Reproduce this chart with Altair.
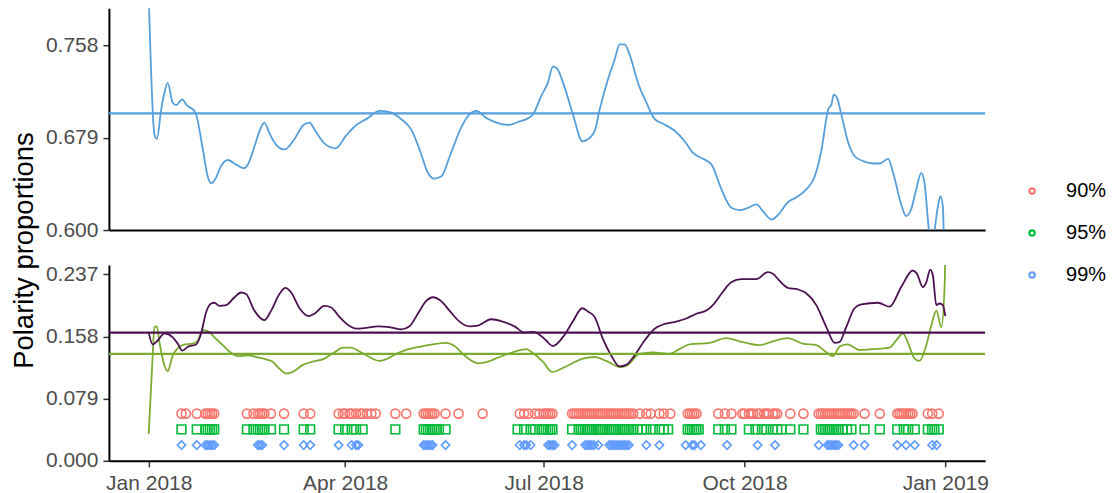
import altair as alt
import pandas as pd

START = "2018-01-01"

# ---- top panel: one smoothed proportion (days since START, value) ----
top_days = [0, 2.6, 3.7, 5.7, 6.9, 8.7, 11.0, 12.6, 15.3, 17.4,
            20.9, 21.7, 24.8, 27.0, 28.6, 30.6, 33.2, 36.2, 40.1, 43.4,
            45.4, 48.5, 50.8, 53.0, 55.3, 58.4, 62.2, 66.8, 70.9, 73.7,
            76.0, 80.6, 85.6, 90.5, 95.1, 99.7, 105.8, 110.4, 115.7, 120.3,
            124.1, 127.9, 130.7, 134.1, 137.9, 143.2, 147.0, 150.1, 154.7, 159.3,
            164.6, 170.0, 173.0, 176.1, 179.9, 182.9, 185.2, 186.8, 190.6, 194.4,
            198.7, 200.5, 204.4, 206.6, 210.4, 213.5, 215.8, 218.1, 220.4, 224.2,
            228.1, 231.9, 235.7, 241.0, 245.6, 249.4, 254.0, 257.9, 262.4, 267.0,
            270.8, 274.6, 278.5, 281.5, 285.4, 288.4, 293.0, 296.8, 301.4, 305.2,
            308.3, 311.3, 312.9, 313.9, 315.2, 317.5, 320.5, 323.6, 327.4, 332.0,
            335.0, 338.8, 341.1, 344.8, 347.1, 349.4, 351.7, 354.0, 355.5, 357.5,
            358.7, 360.1, 361.6, 362.8, 363.9, 364.4]
top_vals = [0.800, 0.682, 0.678, 0.703, 0.715, 0.726, 0.709, 0.707, 0.712, 0.707,
            0.702, 0.699, 0.669, 0.646, 0.640, 0.644, 0.655, 0.660, 0.656, 0.653,
            0.656, 0.672, 0.685, 0.692, 0.683, 0.673, 0.669, 0.678, 0.690, 0.692,
            0.686, 0.674, 0.670, 0.681, 0.690, 0.695, 0.702, 0.701, 0.695, 0.686,
            0.669, 0.649, 0.644, 0.646, 0.663, 0.688, 0.699, 0.702, 0.696, 0.692,
            0.690, 0.693, 0.695, 0.699, 0.715, 0.726, 0.740, 0.739, 0.722, 0.699,
            0.676, 0.677, 0.685, 0.703, 0.729, 0.746, 0.759, 0.759, 0.750, 0.726,
            0.709, 0.695, 0.691, 0.685, 0.676, 0.666, 0.661, 0.656, 0.635, 0.619,
            0.617, 0.619, 0.622, 0.616, 0.609, 0.613, 0.624, 0.628, 0.635, 0.646,
            0.669, 0.703, 0.708, 0.716, 0.714, 0.698, 0.675, 0.663, 0.659, 0.657,
            0.657, 0.661, 0.649, 0.622, 0.612, 0.618, 0.635, 0.649, 0.640, 0.600,
            0.585, 0.600, 0.620, 0.629, 0.620, 0.585]
top_ref = 0.700

# ---- bottom panel: two proportions ----
pos_days = [0.0, 1.8, 4.1, 7.2, 11.0, 13.3, 15.3, 17.9, 21.7, 24.0,
            26.3, 28.6, 30.1, 32.4, 35.5, 39.3, 42.3, 44.6, 48.4, 53.0,
            56.1, 59.9, 62.6, 65.3, 69.1, 73.3, 75.9, 80.5, 83.6, 87.4,
            91.2, 95.1, 99.6, 105.0, 110.3, 115.7, 119.5, 123.3, 127.1, 130.2,
            134.0, 137.8, 142.4, 147.0, 150.8, 156.9, 162.2, 167.6, 172.2, 176.0,
            180.6, 182.1, 185.2, 190.5, 194.3, 198.6, 201.2, 204.3, 208.1, 211.9,
            215.7, 218.8, 222.6, 227.2, 231.8, 236.4, 241.7, 246.3, 250.9, 255.5,
            258.5, 263.1, 266.9, 271.5, 278.4, 283.7, 286.0, 289.0, 292.8, 297.4,
            301.3, 305.9, 310.5, 314.3, 316.5, 319.6, 323.4, 326.5, 334.1, 339.5,
            344.8, 350.1, 352.0, 354.7, 356.3, 358.1, 359.3, 360.9, 362.4, 363.9,
            365.0]
pos_vals = [0.163, 0.148, 0.153, 0.162, 0.157, 0.149, 0.140, 0.145, 0.148, 0.162,
            0.189, 0.200, 0.201, 0.197, 0.198, 0.208, 0.214, 0.212, 0.191, 0.179,
            0.191, 0.212, 0.220, 0.214, 0.194, 0.184, 0.187, 0.197, 0.195, 0.183,
            0.173, 0.168, 0.169, 0.171, 0.170, 0.167, 0.171, 0.187, 0.203, 0.208,
            0.203, 0.191, 0.177, 0.171, 0.172, 0.180, 0.177, 0.171, 0.163, 0.164,
            0.157, 0.153, 0.146, 0.160, 0.177, 0.194, 0.190, 0.183, 0.155, 0.134,
            0.120, 0.122, 0.134, 0.153, 0.168, 0.174, 0.177, 0.181, 0.187, 0.191,
            0.198, 0.215, 0.227, 0.231, 0.231, 0.240, 0.238, 0.229, 0.220, 0.218,
            0.213, 0.198, 0.170, 0.150, 0.151, 0.170, 0.194, 0.199, 0.201, 0.196,
            0.221, 0.242, 0.238, 0.221, 0.227, 0.243, 0.236, 0.198, 0.200, 0.198,
            0.184]
pos_ref = 0.163

neg_days = [0.0, 1.8, 2.6, 3.7, 4.9, 6.7, 8.7, 11.0, 13.3, 16.4,
            20.2, 22.5, 24.7, 27.0, 30.1, 33.9, 37.8, 40.8, 45.4, 49.2,
            53.8, 56.8, 59.9, 63.0, 66.0, 70.6, 75.2, 80.5, 85.1, 88.9,
            92.8, 96.6, 101.1, 105.7, 109.5, 113.4, 118.0, 124.1, 130.2, 136.3,
            140.1, 145.5, 150.8, 155.4, 160.7, 166.8, 170.7, 173.0, 176.0, 180.6,
            184.9, 190.5, 198.9, 204.3, 209.6, 216.5, 219.5, 224.9, 231.0, 238.6,
            243.2, 247.8, 257.0, 264.6, 270.7, 279.9, 286.0, 292.8, 299.7, 305.9,
            310.5, 313.5, 316.5, 320.3, 325.7, 331.8, 339.5, 342.5, 345.6, 347.8,
            350.9, 353.2, 356.3, 358.6, 360.9, 363.2, 364.7, 365.0]
neg_vals = [0.034, 0.134, 0.170, 0.171, 0.151, 0.126, 0.114, 0.134, 0.143, 0.148,
            0.149, 0.153, 0.166, 0.165, 0.157, 0.147, 0.137, 0.133, 0.134, 0.132,
            0.129, 0.126, 0.117, 0.111, 0.113, 0.122, 0.126, 0.130, 0.138, 0.144,
            0.144, 0.139, 0.132, 0.127, 0.130, 0.136, 0.141, 0.145, 0.148, 0.150,
            0.146, 0.132, 0.124, 0.126, 0.132, 0.138, 0.141, 0.142, 0.137, 0.126,
            0.113, 0.119, 0.130, 0.132, 0.127, 0.119, 0.122, 0.136, 0.138, 0.136,
            0.142, 0.148, 0.150, 0.156, 0.152, 0.147, 0.152, 0.156, 0.149, 0.147,
            0.138, 0.133, 0.145, 0.148, 0.141, 0.142, 0.144, 0.153, 0.162, 0.151,
            0.130, 0.127, 0.147, 0.172, 0.191, 0.170, 0.223, 0.265]
neg_ref = 0.136

# ---- significance markers (days since START) ----
levels = ["90%", "95%", "99%"]
level_y = [0.060, 0.040, 0.020]
days_90 = [15, 17, 22, 26, 27, 28, 29, 30, 45, 48, 50, 51, 52, 53, 56, 62, 71, 74,
           87, 89, 90, 92, 93, 95, 97, 98, 100, 102, 104, 113, 118,
           126, 127, 128, 129, 130, 131, 136, 142, 153,
           170, 172, 174, 177, 179, 181, 182, 183, 184, 185,
           194, 195, 196, 197, 198, 199, 200, 201, 202, 203, 204, 205, 206, 207,
           208, 209, 210, 211, 212, 213, 214, 215, 216, 217, 218, 219, 220, 221, 222,
           225, 228, 230, 234, 236, 239, 247, 248, 249, 250, 251, 261, 264, 267,
           272, 273, 275, 276, 277, 279, 280, 282, 283, 284, 286, 287, 288, 294, 300,
           307, 308, 309, 310, 311, 312, 313, 314, 315, 316, 317, 318, 319, 320,
           321, 322, 323, 328, 335,
           343, 344, 345, 346, 347, 348, 349, 350, 357, 359, 362]
days_95 = [15, 22, 26, 27, 28, 29, 30, 45, 48, 50, 51, 52, 53, 56, 62, 71, 74,
           87, 90, 93, 95, 98, 113, 126, 127, 128, 129, 130, 131, 132, 133, 136,
           169, 172, 175, 177, 180, 181, 182, 183, 184, 185,
           194, 197, 198, 199, 200, 201, 202, 203, 204, 205, 206, 207, 208, 209,
           210, 211, 212, 213, 214, 215, 216, 217, 218, 219, 220, 221, 222,
           224, 226, 228, 231, 234, 236, 238,
           247, 248, 249, 250, 251, 252, 261, 264, 267,
           275, 278, 281, 283, 286, 288, 290, 294, 300,
           308, 309, 310, 311, 312, 313, 314, 315, 316, 318, 320, 322, 328, 335,
           343, 346, 348, 351, 357, 359, 360, 362]
days_99 = [15, 22, 26, 27, 28, 29, 30, 50, 51, 52, 62, 71, 74, 87, 93, 95, 96,
           126, 127, 128, 129, 130, 136, 170, 172, 173, 175, 183, 184, 185, 186,
           194, 200, 201, 202, 203, 204, 206, 211, 212, 213, 214, 215, 216, 217,
           218, 219, 220, 228, 234, 246, 249, 250, 253, 265, 279, 287,
           307, 311, 312, 313, 314, 315, 316, 323, 328, 343, 347, 351, 359, 361]

x_ticks = ["2018-01-01", "2018-04-01", "2018-07-01", "2018-10-01", "2019-01-01"]
top_ticks = [0.600, 0.679, 0.758]
bottom_ticks = [0.000, 0.079, 0.158, 0.237]

BLUE = "#569FDA"
PURPLE = "#4C1150"
GREEN = "#7BAB30"
MARK_COLORS = ["#F8766D", "#00BA38", "#619CFF"]
FONT = "Liberation Sans"

t0 = pd.Timestamp(START)


def stamp(days):
    return [(t0 + pd.Timedelta(days=float(d))).strftime("%Y-%m-%dT%H:%M:%S") for d in days]


def dt(s):
    ts = pd.Timestamp(s)
    return alt.DateTime(year=ts.year, month=ts.month, date=ts.day, hours=ts.hour)


top_df = pd.DataFrame({"date": stamp(top_days), "tv": top_vals})
pos_df = pd.DataFrame({"date": stamp(pos_days), "bv": pos_vals})
neg_df = pd.DataFrame({"date": stamp(neg_days), "bv": neg_vals})
rows = []
for lev, yv, ds in zip(levels, level_y, [days_90, days_95, days_99]):
    for s in stamp(ds):
        rows.append({"date": s, "bv": yv, "level": lev})
mk_df = pd.DataFrame(rows)

xscale = alt.Scale(domain=[dt("2017-12-13T18:00"), dt("2019-01-19T06:00")], nice=False)
xtick_vals = [dt(s) for s in x_ticks]

W, H_TOP, H_BOT = 877, 222, 196

top_y = alt.Y("tv:Q", scale=alt.Scale(domain=[0.600, 0.790], nice=False, zero=False),
              axis=alt.Axis(values=top_ticks, format=".3f", title=None))
top_x = alt.X("date:T", scale=xscale,
              axis=alt.Axis(labels=False, ticks=False, domain=True, title=None))

top_line = alt.Chart(top_df).mark_line(color=BLUE, strokeWidth=1.8, clip=True,
                                       interpolate="monotone").encode(x=top_x, y=top_y)
top_rule = alt.Chart(pd.DataFrame({"tv": [top_ref]})).mark_rule(
    color=BLUE, strokeWidth=2.2).encode(y=alt.Y("tv:Q"))
top = alt.layer(top_line, top_rule).properties(width=W, height=H_TOP)

bot_scale = alt.Scale(domain=[0.0, 0.249], nice=False)
bot_y = alt.Y("bv:Q", scale=bot_scale,
              axis=alt.Axis(values=bottom_ticks, format=".3f",
                            title="Polarity proportions", titleFontSize=27.5,
                            titleColor="black", titleFont=FONT, titleFontWeight="normal",
                            titleAngle=270, titleAlign="center", titleBaseline="middle",
                            titleX=-84, titleY=-15))
bot_x = alt.X("date:T", scale=xscale,
              axis=alt.Axis(values=xtick_vals, format="%b %Y", title=None,
                            labelAlign="center", labelPadding=6))

neg_line = alt.Chart(neg_df).mark_line(color=GREEN, strokeWidth=1.8, clip=True,
                                       interpolate="monotone").encode(x=bot_x, y=bot_y)
pos_line = alt.Chart(pos_df).mark_line(color=PURPLE, strokeWidth=1.8, clip=True,
                                       interpolate="monotone").encode(x=bot_x, y=bot_y)
pos_rule = alt.Chart(pd.DataFrame({"bv": [pos_ref]})).mark_rule(
    color=PURPLE, strokeWidth=2.2).encode(y=alt.Y("bv:Q"))
neg_rule = alt.Chart(pd.DataFrame({"bv": [neg_ref]})).mark_rule(
    color=GREEN, strokeWidth=2.2).encode(y=alt.Y("bv:Q"))

markers = alt.Chart(mk_df).mark_point(filled=False, strokeWidth=1.6, opacity=1).encode(
    x=bot_x, y=bot_y,
    color=alt.Color("level:N", scale=alt.Scale(domain=levels, range=MARK_COLORS),
                    legend=alt.Legend(title=None, orient="none", legendX=914, legendY=-84,
                                      symbolType="circle", symbolSize=30,
                                      symbolStrokeWidth=2.2, symbolFillColor="white",
                                      labelFontSize=20, labelColor="black", labelFont=FONT,
                                      rowPadding=22, labelOffset=24, padding=0)),
    shape=alt.Shape("level:N", scale=alt.Scale(domain=levels,
                                               range=["circle", "square", "diamond"]),
                    legend=None),
    size=alt.Size("level:N", scale=alt.Scale(domain=levels, range=[82, 70, 130]),
                  legend=None),
)

bottom = alt.layer(neg_line, pos_line, pos_rule, neg_rule, markers).properties(
    width=W, height=H_BOT)

chart = alt.vconcat(top, bottom, spacing=35, bounds="flush").resolve_scale(
    y="independent"
).resolve_legend(color="independent").properties(
    padding={"left": 2, "top": 0, "right": 0, "bottom": 0}
).configure_view(stroke=None).configure_axis(
    grid=False, domainColor="black", domainWidth=2, tickColor="#333333", tickWidth=1.5,
    tickSize=6, labelColor="#4D4D4D", labelFont=FONT, labelFontSize=21, labelPadding=5
)

chart.save("out.html", embed_options={"renderer": "svg", "actions": False})
